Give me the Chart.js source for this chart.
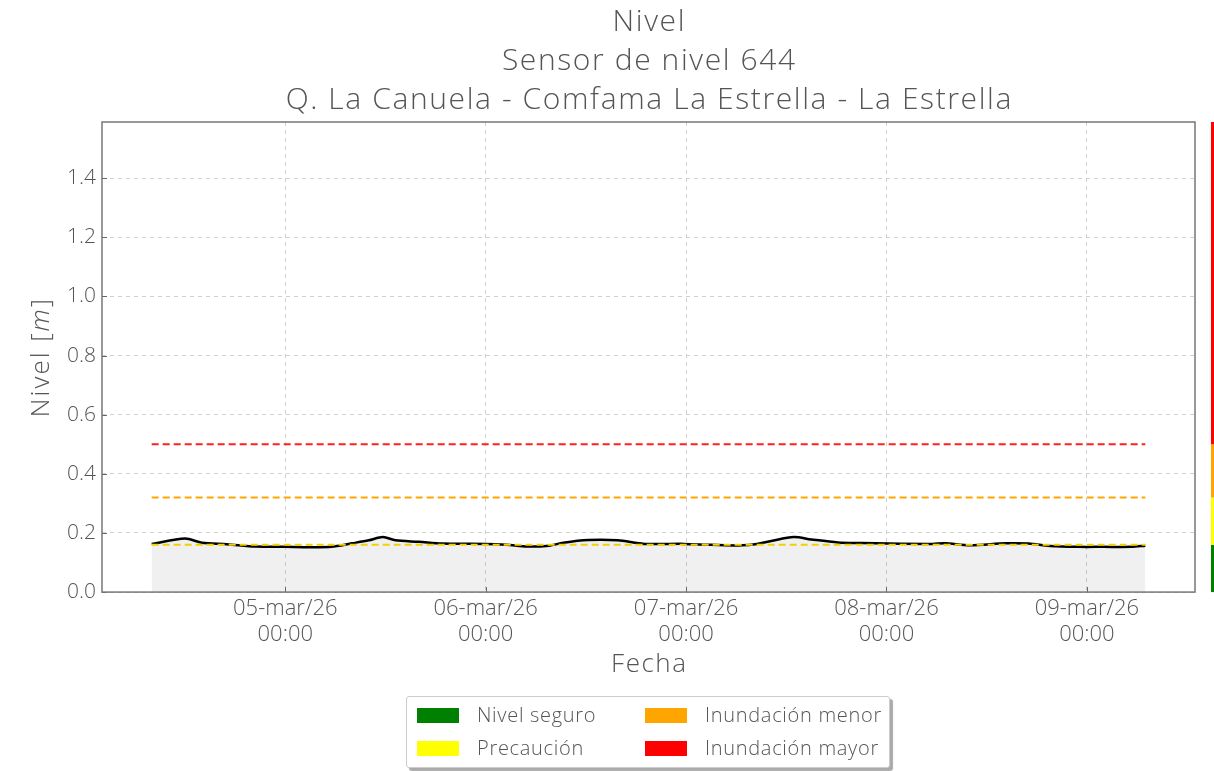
<!DOCTYPE html>
<html>
<head>
<meta charset="utf-8">
<script src="https://cdn.jsdelivr.net/npm/chart.js@4"></script>
<style>
  body { margin: 0; background: #fff; }
  #wrap { position: relative; width: 1214px; height: 771px; }
  #legend {
    position: absolute; left: 406px; top: 696px; width: 482px; height: 70px;
    background: #fff; border: 1px solid #ccc; border-radius: 3px;
    box-shadow: 3px 3px 1px #aaa;
    font-family: "Open Sans", Lato, sans-serif; font-weight: 300; font-size: 20px;
    letter-spacing: 0.7px; color: #555;
  }
  .item { position: absolute; height: 24px; line-height: 24px; }
  .sw { position: absolute; left: 0; top: 4px; width: 42px; height: 15px; }
  .lbl { position: absolute; left: 60px; top: -1px; white-space: nowrap; }
</style>
</head>
<body>
<div id="wrap">
  <canvas id="nivelChart" width="1214" height="771"></canvas>
  <div id="legend"></div>
</div>
<script>
// horas desde 04-mar/26 00:00
const horas = [8, 12, 14, 17, 20.5, 24, 27, 29.5, 32, 34, 35.7, 37.2, 40, 42.8, 48, 50.5, 53, 55.6, 57.3, 60.3, 63.8, 67,
               71.7, 75, 78.7, 80.5, 82.2, 84.9, 87, 90.2, 93, 96.3, 101.5, 103, 106, 110.3, 113, 115.6, 119, 122, 125.3, 127];
const nivel = [0.163, 0.181, 0.167, 0.162, 0.154, 0.153, 0.152, 0.153, 0.165, 0.175, 0.186, 0.175, 0.170, 0.164, 0.163, 0.160, 0.154, 0.157, 0.167, 0.176, 0.175, 0.163,
               0.163, 0.160, 0.158, 0.163, 0.173, 0.186, 0.178, 0.168, 0.166, 0.164, 0.163, 0.165, 0.158, 0.165, 0.164, 0.156, 0.153, 0.153, 0.153, 0.157];
const umbrales = [0.16, 0.32, 0.5];
const coloresUmbral = ['#f5d000', '#ffa500', '#ff2020'];
const diasTicks = [24, 48, 72, 96, 120];
const diasLabels = ['05-mar/26', '06-mar/26', '07-mar/26', '08-mar/26', '09-mar/26'];
const yTicks = [0, 0.2, 0.4, 0.6, 0.8, 1.0, 1.2, 1.4];
const titulo = ['Nivel', 'Sensor de nivel 644', 'Q. La Canuela - Comfama La Estrella - La Estrella'];
const legendNames = ['Nivel seguro', 'Precaución', 'Inundación menor', 'Inundación mayor'];
const legendColors = ['#008000', '#ffff00', '#ffa500', '#ff0000'];

const font = '"Open Sans", Lato, sans-serif';
const gris = '#555';

const levelData = horas.map((h, i) => ({x: h, y: nivel[i]}));
const first = horas[0], last = horas[horas.length - 1];
const margin = (last - first) * 0.05;

const datasets = [{
    data: levelData,
    borderColor: '#000',
    borderWidth: 2.5,
    pointRadius: 0,
    tension: 0.3,
    fill: 'origin',
    backgroundColor: 'rgba(128,128,128,0.12)',
    order: 2
}];
umbrales.forEach((u, i) => {
    datasets.push({
        data: [{x: first, y: u}, {x: last, y: u}],
        borderColor: coloresUmbral[i],
        borderWidth: 2,
        borderDash: [7, 4],
        pointRadius: 0,
        fill: false,
        order: 1
    });
});

function spaced(ctx, txt, x, y, spacing) {
    ctx.letterSpacing = spacing + 'px';
    const w = ctx.measureText(txt).width - spacing;
    ctx.textAlign = 'left';
    ctx.fillText(txt, x - w / 2, y);
    ctx.letterSpacing = '0px';
}

const extras = {
    id: 'extras',
    afterDraw(chart) {
        const ctx = chart.ctx;
        const a = chart.chartArea;
        const ys = chart.scales.y, xs = chart.scales.x;
        ctx.save();
        // ticks hacia adentro
        ctx.strokeStyle = '#666';
        ctx.lineWidth = 1;
        yTicks.forEach(v => {
            const py = Math.round(ys.getPixelForValue(v)) + 0.5;
            ctx.beginPath(); ctx.moveTo(a.left, py); ctx.lineTo(a.left + 5, py); ctx.stroke();
        });
        diasTicks.forEach(v => {
            const px = Math.round(xs.getPixelForValue(v)) + 0.5;
            ctx.beginPath(); ctx.moveTo(px, a.bottom); ctx.lineTo(px, a.bottom - 5); ctx.stroke();
        });
        // marco
        ctx.strokeStyle = '#777';
        ctx.lineWidth = 1.5;
        ctx.strokeRect(a.left, a.top, a.right - a.left, a.bottom - a.top);
        // barra de colores a la derecha
        const lim = [0].concat(umbrales, [ys.max]);
        const barCols = ['#008000', '#ffff00', '#ffa500', '#ff0000'];
        for (let i = 0; i < 4; i++) {
            const y1 = ys.getPixelForValue(lim[i]);
            const y2 = ys.getPixelForValue(lim[i + 1]);
            ctx.fillStyle = barCols[i];
            ctx.fillRect(1211, y2, 4, y1 - y2);
        }
        // titulo
        ctx.fillStyle = gris;
        ctx.textBaseline = 'middle';
        ctx.font = '300 30px ' + font;
        const cx = (a.left + a.right) / 2;
        titulo.forEach((t, i) => spaced(ctx, t, cx, 22.5 + i * 39, 1.6));
        // titulo eje x
        ctx.font = '300 26px ' + font;
        spaced(ctx, 'Fecha', cx, 665, 1.5);
        // titulo eje y con m en cursiva
        ctx.translate(42, (a.top + a.bottom) / 2);
        ctx.rotate(-Math.PI / 2);
        ctx.letterSpacing = '2px';
        const fN = '300 26px ' + font, fI = 'italic 300 26px ' + font;
        const parts = [['Nivel [', fN], ['m', fI], [']', fN]];
        let w = 0;
        parts.forEach(p => { ctx.font = p[1]; w += ctx.measureText(p[0]).width; });
        let x = -w / 2;
        ctx.textAlign = 'left';
        parts.forEach(p => { ctx.font = p[1]; ctx.fillText(p[0], x, 0); x += ctx.measureText(p[0]).width; });
        ctx.restore();
    }
};

new Chart(document.getElementById('nivelChart'), {
    type: 'line',
    data: { datasets: datasets },
    options: {
        responsive: false,
        animation: false,
        devicePixelRatio: 1,
        layout: { padding: { left: 0, right: 19, top: 122, bottom: 119 } },
        plugins: {
            legend: { display: false },
            tooltip: { enabled: false },
            title: { display: false }
        },
        scales: {
            x: {
                type: 'linear',
                min: first - margin,
                max: last + margin,
                afterBuildTicks: s => { s.ticks = diasTicks.map(v => ({value: v})); },
                ticks: {
                    color: gris,
                    font: { family: font, size: 22, weight: 300, lineHeight: 1.18 },
                    padding: 4,
                    maxRotation: 0,
                    callback: v => [diasLabels[diasTicks.indexOf(v)], '00:00']
                },
                grid: { color: '#d0d0d0', lineWidth: 1, drawTicks: false },
                border: { display: false, dash: [4, 4] }
            },
            y: {
                min: 0,
                max: 1.59,
                afterBuildTicks: s => { s.ticks = yTicks.map(v => ({value: v})); },
                afterFit: s => { s.width = 102; },
                ticks: {
                    color: gris,
                    font: { family: font, size: 21, weight: 300 },
                    padding: 6,
                    callback: v => v.toFixed(1)
                },
                grid: { color: '#d0d0d0', lineWidth: 1, drawTicks: false },
                border: { display: false, dash: [4, 4] }
            }
        }
    },
    plugins: [extras]
});

// leyenda
const leg = document.getElementById('legend');
const pos = [[10, 7], [10, 40], [238, 7], [238, 40]];
legendNames.forEach((n, i) => {
    const d = document.createElement('div');
    d.className = 'item';
    d.style.left = pos[i][0] + 'px';
    d.style.top = pos[i][1] + 'px';
    d.innerHTML = '<div class="sw" style="background:' + legendColors[i] + '"></div><span class="lbl">' + n + '</span>';
    leg.appendChild(d);
});
</script>
</body>
</html>
